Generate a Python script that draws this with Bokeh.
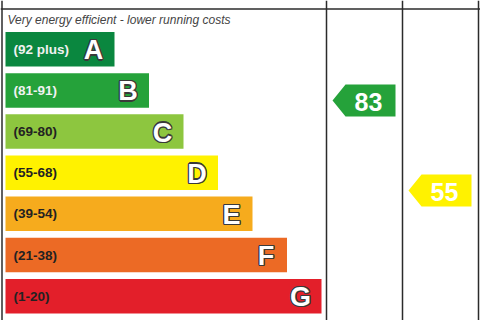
from bokeh.plotting import figure
from bokeh.models import Range1d, ColumnDataSource
from bokeh.core.properties import value
from bokeh.embed import file_html
from bokeh.resources import INLINE

# ---- data ----
bands = ["A", "B", "C", "D", "E", "F", "G"]
band_ranges = ["(92 plus)", "(81-91)", "(69-80)", "(55-68)", "(39-54)", "(21-38)", "(1-20)"]
band_colors = ["#0a873f", "#25a23a", "#8dc63f", "#fff200", "#f6ab1d", "#ec6a25", "#e31f2a"]
label_colors = ["#f2f2f2", "#f2f2f2", "#222222", "#222222", "#222222", "#222222", "#222222"]
rating_values = [83, 55]           # current, potential
rating_colors = ["#25a23a", "#fff200"]
top_note = "Very energy efficient - lower running costs"
bottom_note = "Not energy efficient - higher running costs"

# ---- layout constants ----
FONT = value("Liberation Sans")
bar_left = 5
bar_top0 = 31.5
bar_pitch = 41.15
bar_h = 34.5
bar_right0 = 114
bar_step = 34.5
col_edges = [326, 402, 478]

p = figure(width=480, height=320, x_range=Range1d(0, 480), y_range=Range1d(320, 0),
           x_axis_type=None, y_axis_type=None, toolbar_location=None,
           output_backend="svg", min_border=0, outline_line_color=None,
           background_fill_color="white", border_fill_color="white")
p.xgrid.visible = False
p.ygrid.visible = False

n = len(bands)
tops = [bar_top0 + bar_pitch * i for i in range(n)]
bottoms = [t + bar_h for t in tops]
rights = [bar_right0 + bar_step * i for i in range(n)]
mids = [(t + b) / 2 for t, b in zip(tops, bottoms)]

src = ColumnDataSource(dict(left=[bar_left] * n, right=rights, top=tops, bottom=bottoms,
                            color=band_colors, mid=mids, rng=band_ranges, lc=label_colors,
                            band=bands, lx=[r - 21 for r in rights], tx=[13] * n))
p.quad(left="left", right="right", top="top", bottom="bottom", fill_color="color",
       line_color=None, source=src)
p.text(x="tx", y="mid", text="rng", text_color="lc", text_font=FONT, text_font_size="13.5px",
       text_font_style="bold", text_baseline="middle", text_align="left", source=src)

# outlined letters
offs = [(-1.3, 0), (1.3, 0), (0, -1.3), (0, 1.3), (-1, -1), (-1, 1), (1, -1), (1, 1)]
for dx, dy in offs:
    p.text(x="lx", y="mid", text="band", text_color="#3a3a3a", text_font=FONT,
           text_font_size="27px", text_font_style="bold", text_baseline="middle",
           text_align="center", x_offset=dx, y_offset=dy + 1, source=src)
p.text(x="lx", y="mid", text="band", text_color="white", text_font=FONT,
       text_font_size="27px", text_font_style="bold", text_baseline="middle",
       text_align="center", y_offset=1, source=src)

# grid lines
p.segment(x0=[0], y0=[8.5], x1=[480], y1=[8.5], line_color="#2b2b2b", line_width=1.5)
p.segment(x0=[1.5] + col_edges, y0=[0] * 4, x1=[1.5] + col_edges, y1=[320] * 4,
          line_color="#2b2b2b", line_width=1.5)

# notes
p.text(x=[7], y=[19.5], text=[top_note], text_color="#444444", text_font=FONT,
       text_font_size="12px", text_font_style="italic", text_baseline="middle")
p.text(x=[7], y=[317], text=[bottom_note], text_color="#444444", text_font=FONT,
       text_font_size="12px", text_font_style="italic", text_baseline="top")

# rating arrows (position scaled linearly by value)
def y_of(v):
    return 366.8 - 3.214 * v

for k, (v, c) in enumerate(zip(rating_values, rating_colors)):
    cl, cr = col_edges[k], col_edges[k + 1]
    tip = cl + 6
    pe = tip + 13
    right = cr - 7
    yc = y_of(v)
    h = 16
    p.patch(x=[tip, pe, right, right, pe], y=[yc, yc - h, yc - h, yc + h, yc + h],
            fill_color=c, line_color=None)
    p.text(x=[(pe + right) / 2 - 2], y=[yc + 1], text=[str(v)], text_color="white",
           text_font=FONT, text_font_size="25px", text_font_style="bold",
           text_baseline="middle", text_align="center")

open("out.html", "w").write(file_html(p, INLINE))
